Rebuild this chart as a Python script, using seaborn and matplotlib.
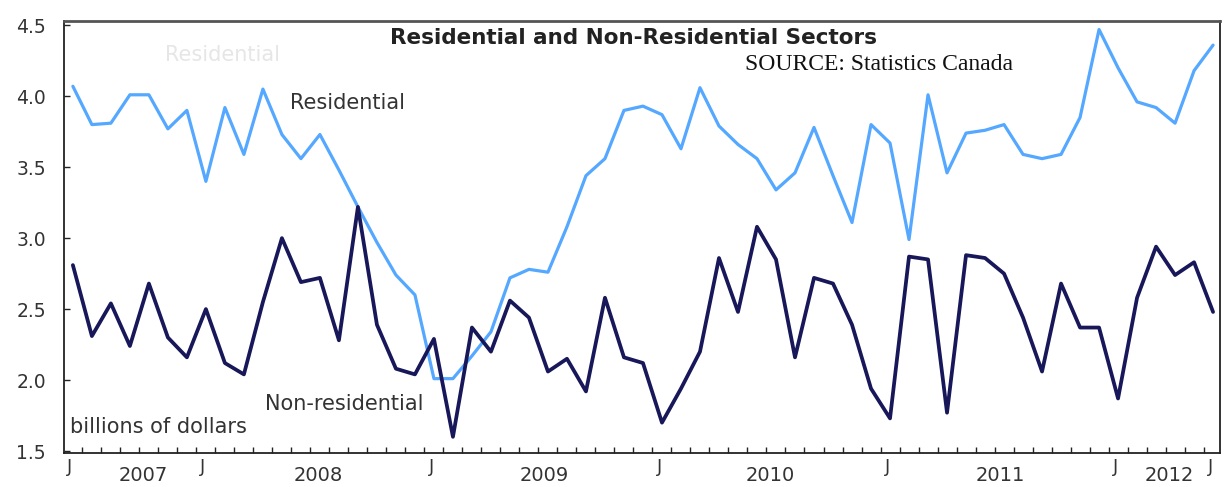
import numpy as np
import pandas as pd
import matplotlib
matplotlib.use("Agg")
import matplotlib.pyplot as plt
import matplotlib.transforms as mtransforms
import seaborn as sns

# Monthly data, June 2007 .. June 2012 (billions of dollars)
months = pd.date_range("2007-06-01", "2012-06-01", freq="MS").strftime("%Y-%m").tolist()
residential = [4.07, 3.80, 3.81, 4.01, 4.01, 3.77, 3.90, 3.40, 3.92, 3.59,
               4.05, 3.73, 3.56, 3.73, 3.48, 3.22, 2.97, 2.74, 2.60, 2.01,
               2.01, 2.17, 2.34, 2.72, 2.78, 2.76, 3.08, 3.44, 3.56, 3.90,
               3.93, 3.87, 3.63, 4.06, 3.79, 3.66, 3.56, 3.34, 3.46, 3.78,
               3.44, 3.11, 3.80, 3.67, 2.99, 4.01, 3.46, 3.74, 3.76, 3.80,
               3.59, 3.56, 3.59, 3.85, 4.47, 4.20, 3.96, 3.92, 3.81, 4.18,
               4.36]
non_residential = [2.81, 2.31, 2.54, 2.24, 2.68, 2.30, 2.16, 2.50, 2.12, 2.04,
                   2.55, 3.00, 2.69, 2.72, 2.28, 3.22, 2.39, 2.08, 2.04, 2.29,
                   1.60, 2.37, 2.20, 2.56, 2.44, 2.06, 2.15, 1.92, 2.58, 2.16,
                   2.12, 1.70, 1.94, 2.20, 2.86, 2.48, 3.08, 2.85, 2.16, 2.72,
                   2.68, 2.39, 1.94, 1.73, 2.87, 2.85, 1.77, 2.88, 2.86, 2.75,
                   2.44, 2.06, 2.68, 2.37, 2.37, 1.87, 2.58, 2.94, 2.74, 2.83,
                   2.48]
month_labels = ["J", "J", "J", "J", "J", "J", "J"]
month_label_idx = [0, 7, 19, 31, 43, 55, 60]
year_labels = ["2007", "2008", "2009", "2010", "2011", "2012"]
year_label_pos = [3.7, 12.9, 24.8, 36.7, 48.8, 57.7]
y_ticks = [1.5, 2.0, 2.5, 3.0, 3.5, 4.0, 4.5]

sns.set_style("white")
plt.rcParams["font.family"] = ["DejaVu Sans"]

idx = np.arange(len(months))
df = pd.DataFrame({"idx": np.concatenate([idx, idx]),
                   "value": residential + non_residential,
                   "series": ["Residential"] * len(idx) + ["Non-residential"] * len(idx)})

fig = plt.figure(figsize=(12.25, 4.87), dpi=100)
ax = fig.add_axes([0.0522, 0.0698, 0.9438, 0.8871])

sns.lineplot(data=df[df.series == "Residential"], x="idx", y="value",
             color="#55a8ff", lw=2.3, ax=ax, legend=False)
sns.lineplot(data=df[df.series == "Non-residential"], x="idx", y="value",
             color="#17175a", lw=2.7, ax=ax, legend=False)

ax.set_xlim(-0.47, 60.37)
ax.set_ylim(1.486, 4.53)
ax.set_xlabel("")
ax.set_ylabel("")

# month-boundary ticks
ax.set_xticks(np.arange(0.5, 60.5, 1.0))
ax.set_xticklabels([])
ax.tick_params(axis="x", direction="in", length=4, width=1, color="#222222", bottom=True)
ax.set_yticks(y_ticks)
ax.set_yticklabels([f"{v:.1f}" for v in y_ticks], fontsize=13.5, color="#333333")
ax.tick_params(axis="y", direction="in", length=4, width=1, color="#222222", left=True, pad=13)

for s in ["left", "bottom", "right"]:
    ax.spines[s].set_color("#222222")
    ax.spines[s].set_linewidth(1.3)
ax.spines["top"].set_color("#555555")
ax.spines["top"].set_linewidth(2.0)

trans = mtransforms.blended_transform_factory(ax.transData, ax.transAxes)
for lab, i in zip(month_labels, month_label_idx):
    ax.text(i - 0.15, -0.032, lab, transform=trans, ha="center", va="center",
            fontsize=13, color="#333333")
for lab, p in zip(year_labels, year_label_pos):
    ax.text(p, -0.053, lab, transform=trans, ha="center", va="center",
            fontsize=14, color="#333333")

ax.text(0.493, 0.961, "Residential and Non-Residential Sectors", transform=ax.transAxes,
        ha="center", va="center", fontsize=15.5, fontweight="bold", color="#222222")
ax.text(0.589, 0.90, "SOURCE: Statistics Canada", transform=ax.transAxes,
        ha="left", va="center", fontsize=17, color="#111111",
        family=["Liberation Serif", "DejaVu Serif"])
ax.text(0.087, 0.921, "Residential", transform=ax.transAxes, ha="left", va="center",
        fontsize=15, color="#e6e6e6")
ax.text(0.1955, 0.810, "Residential", transform=ax.transAxes, ha="left", va="center",
        fontsize=15, color="#333333")
ax.text(0.174, 0.113, "Non-residential", transform=ax.transAxes, ha="left", va="center",
        fontsize=15, color="#333333")
ax.text(0.005, 0.060, "billions of dollars", transform=ax.transAxes, ha="left", va="center",
        fontsize=15, color="#333333")

fig.savefig("out.png", dpi=100)
